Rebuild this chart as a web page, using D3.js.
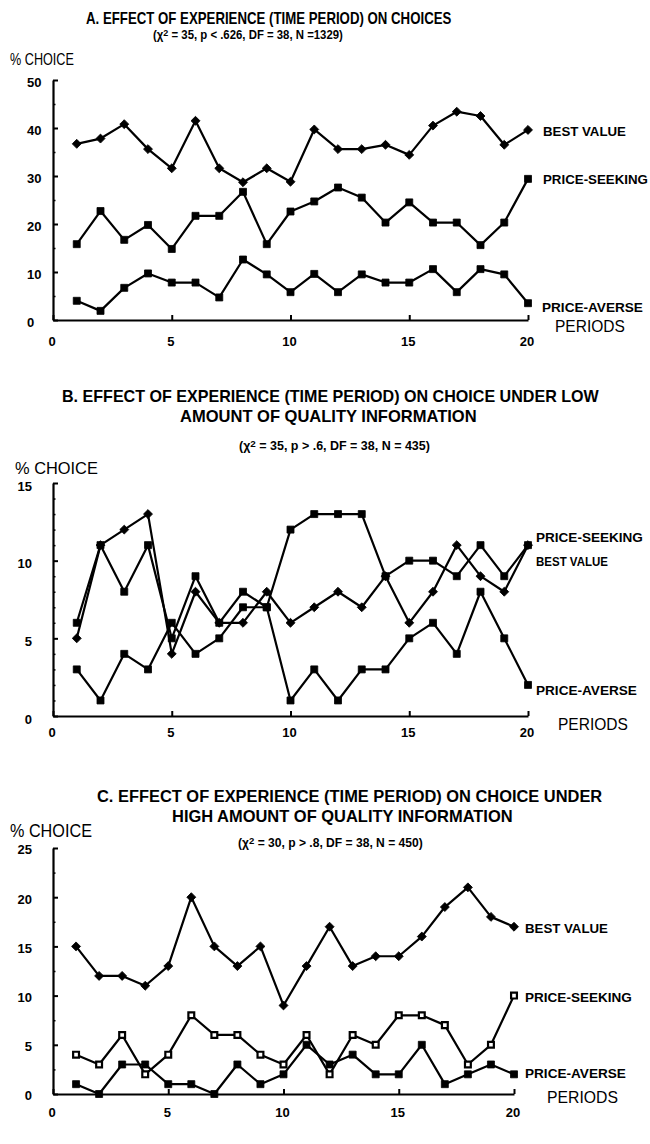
<!DOCTYPE html>
<html>
<head>
<meta charset="utf-8">
<script src="https://cdn.jsdelivr.net/npm/d3@7"></script>
<style>
  body { margin: 0; background: #fff; }
  svg { display: block; }
</style>
</head>
<body>
<svg id="chart" width="650" height="1144"></svg>
<script>
// ---- data ----
const periods = [1, 2, 3, 4, 5, 6, 7, 8, 9, 10, 11, 12, 13, 14, 15, 16, 17, 18, 19, 20];
const xTickValues = [0, 5, 10, 15, 20];
const seriesNames = ["BEST VALUE", "PRICE-SEEKING", "PRICE-AVERSE"];

// A. all choices
const aBestValue    = [36.7, 37.8, 40.8, 35.6, 31.6, 41.5, 31.6, 28.7, 31.6, 28.8, 39.7, 35.6, 35.6, 36.5, 34.4, 40.5, 43.4, 42.5, 36.5, 39.6];
const aPriceSeeking = [15.8, 22.7, 16.7, 19.8, 14.8, 21.7, 21.7, 26.7, 15.8, 22.6, 24.7, 27.6, 25.5, 20.3, 24.5, 20.3, 20.3, 15.6, 20.3, 29.4];
const aPriceAverse  = [4.0, 1.9, 6.7, 9.7, 7.8, 7.8, 4.7, 12.6, 9.5, 5.8, 9.6, 5.8, 9.5, 7.8, 7.8, 10.6, 5.8, 10.6, 9.5, 3.5];
const aYTicks = [0, 10, 20, 30, 40, 50];
const aYMinorTicks = [5, 15, 25, 35, 45];

// B. low amount of quality information
const bBestValue    = [5, 11, 12, 13, 4, 8, 6, 6, 8, 6, 7, 8, 7, 9, 6, 8, 11, 9, 8, 11];
const bPriceSeeking = [6, 11, 8, 11, 5, 9, 6, 8, 7, 12, 13, 13, 13, 9, 10, 10, 9, 11, 9, 11];
const bPriceAverse  = [3, 1, 4, 3, 6, 4, 5, 7, 7, 1, 3, 1, 3, 3, 5, 6, 4, 8, 5, 2];
const bYTicks = [0, 5, 10, 15];
const bYMinorTicks = [1, 2, 3, 4, 6, 7, 8, 9, 11, 12, 13, 14];

// C. high amount of quality information
const cBestValue    = [15, 12, 12, 11, 13, 20, 15, 13, 15, 9, 13, 17, 13, 14, 14, 16, 19, 21, 18, 17];
const cPriceSeeking = [4, 3, 6, 2, 4, 8, 6, 6, 4, 3, 6, 2, 6, 5, 8, 8, 7, 3, 5, 10];
const cPriceAverse  = [1, 0, 3, 3, 1, 1, 0, 3, 1, 2, 5, 3, 4, 2, 2, 5, 1, 2, 3, 2];
const cYTicks = [0, 5, 10, 15, 20, 25];
const cYMinorTicks = [2.5, 7.5, 12.5, 17.5, 22.5];

const aTitle = ["A. EFFECT OF EXPERIENCE (TIME PERIOD) ON CHOICES"];
const bTitle = ["B. EFFECT OF EXPERIENCE (TIME PERIOD) ON CHOICE UNDER LOW", "AMOUNT OF QUALITY INFORMATION"];
const cTitle = ["C. EFFECT OF EXPERIENCE (TIME PERIOD) ON CHOICE UNDER", "HIGH AMOUNT OF QUALITY INFORMATION"];
const aStats = " = 35, p < .626, DF = 38, N =1329)";
const bStats = " = 35, p > .6, DF = 38, N = 435)";
const cStats = " = 30, p > .8, DF = 38, N = 450)";
const yAxisTitle = "% CHOICE";
const xAxisTitle = "PERIODS";

// ---- drawing ----
const FONT = "'Liberation Sans', Arial, Helvetica, sans-serif";
const svg = d3.select("#chart");

// Text squeezed/stretched horizontally to occupy [x0, x1], baseline at y.
function fitText(parent, parts, x0, x1, y, size, weight) {
  const t = parent.append("text")
    .attr("font-family", FONT)
    .attr("font-size", size)
    .attr("font-weight", weight)
    .attr("fill", "#000");
  parts.forEach(p => {
    const ts = t.append("tspan").text(p.text);
    if (p.dy) ts.attr("dy", p.dy);
    if (p.size) ts.attr("font-size", p.size);
  });
  const w = t.node().getBBox().width;
  t.attr("transform", `translate(${x0},${y}) scale(${(x1 - x0) / w},1)`);
  return t;
}

function statsParts(rest) {
  return [{ text: "(\u03C7" }, { text: "2", dy: -3, size: 9.5 }, { text: rest, dy: 3 }];
}

const markers = {
  diamond: d3.symbol().type(d3.symbolSquare).size(40)(),
  square: d3.symbol().type(d3.symbolSquare).size(49)(),
  open: d3.symbol().type(d3.symbolSquare).size(34)()
};

function drawPanel(L, data) {
  const g = svg.append("g");
  const x = d3.scaleLinear().domain([0, 20]).range(L.xRange);
  const y = d3.scaleLinear().domain([0, L.yMax]).range(L.yRange);

  // minor y ticks
  const minor = g.append("g")
    .attr("transform", `translate(${x(0)},0)`)
    .call(d3.axisLeft(y).tickValues(data.yMinor).tickSize(-2.5).tickSizeOuter(0).tickFormat(""));
  minor.select(".domain").remove();
  minor.selectAll("line").attr("stroke-width", 1.5);

  // major y axis
  const ya = g.append("g")
    .attr("transform", `translate(${x(0)},0)`)
    .call(d3.axisLeft(y).tickValues(data.yTicks).tickSize(-5).tickSizeOuter(0));
  ya.select(".domain").attr("stroke-width", 2.2);
  ya.selectAll(".tick line").attr("stroke-width", 2);
  ya.selectAll(".tick text")
    .attr("font-family", FONT).attr("font-size", 13).attr("font-weight", "bold")
    .attr("x", L.yLabelX - x(0)).attr("text-anchor", L.yLabelAnchor).attr("dy", L.yDy);
  ya.attr("font-size", null).attr("font-family", null);

  // x axis
  const xa = g.append("g")
    .attr("transform", `translate(0,${y(0)})`)
    .call(d3.axisBottom(x).tickValues(xTickValues).tickSize(-5).tickSizeOuter(0).tickPadding(L.xPad));
  xa.select(".domain").attr("stroke-width", 2.2);
  xa.selectAll(".tick line").attr("stroke-width", 2);
  xa.selectAll(".tick text")
    .attr("font-family", FONT).attr("font-size", 13).attr("font-weight", "bold").attr("dx", -1.5);
  xa.attr("font-size", null).attr("font-family", null);

  // series
  const line = d3.line().x((d, i) => x(periods[i])).y(d => y(d));
  data.series.forEach(s => {
    g.append("path").datum(s.values)
      .attr("d", line).attr("fill", "none")
      .attr("stroke", "#000").attr("stroke-width", 2.2).attr("stroke-linejoin", "round");
  });
  data.series.forEach(s => {
    g.selectAll(null).data(s.values).enter().append("path")
      .attr("d", markers[s.marker])
      .attr("transform", (d, i) => `translate(${x(periods[i])},${y(d)})` + (s.marker === "diamond" ? " rotate(45)" : ""))
      .attr("fill", s.marker === "open" ? "#fff" : "#000")
      .attr("stroke", "#000")
      .attr("stroke-width", s.marker === "open" ? 2.2 : 0.8);
  });

  // titles and labels
  data.title.forEach((t, i) => fitText(g, [{ text: t }], L.title[i][0], L.title[i][1], L.title[i][2], 16, "bold"));
  fitText(g, statsParts(data.stats), L.stats[0], L.stats[1], L.stats[2], 12, "bold");
  fitText(g, [{ text: yAxisTitle }], L.yTitle[0], L.yTitle[1], L.yTitle[2], L.yTitleSize, "normal");
  fitText(g, [{ text: xAxisTitle }], L.xTitle[0], L.xTitle[1], L.xTitle[2], 16, "normal");
  data.series.forEach((s, i) => {
    const p = L.seriesLabels[i];
    fitText(g, [{ text: s.name }], p[0], p[1], p[2], 13.5, "bold");
  });
}

drawPanel(
  { xRange: [53, 528], yRange: [320, 80], yMax: 50, yLabelX: 27, yLabelAnchor: "start", yDy: "0.52em", xPad: 17,
    title: [[86, 452, 24]], stats: [153, 343, 39], yTitle: [10, 74, 65], yTitleSize: 16, xTitle: [555, 625, 332],
    seriesLabels: [[543, 626, 136], [543, 648, 184], [542, 643, 312]] },
  { title: aTitle, stats: aStats, yTicks: aYTicks, yMinor: aYMinorTicks,
    series: [
      { name: seriesNames[0], values: aBestValue, marker: "diamond" },
      { name: seriesNames[1], values: aPriceSeeking, marker: "square" },
      { name: seriesNames[2], values: aPriceAverse, marker: "square" }
    ] }
);

drawPanel(
  { xRange: [53, 528], yRange: [716, 483], yMax: 15, yLabelX: 32, yLabelAnchor: "end", yDy: "0.55em", xPad: 12,
    title: [[62, 600, 402], [180, 477, 422]], stats: [239, 430, 450], yTitle: [15, 98, 473.5], yTitleSize: 17, xTitle: [558, 628, 730],
    seriesLabels: [[536, 608, 566], [536, 643, 542], [536, 637, 695]] },
  { title: bTitle, stats: bStats, yTicks: bYTicks, yMinor: bYMinorTicks,
    series: [
      { name: seriesNames[0], values: bBestValue, marker: "diamond" },
      { name: seriesNames[1], values: bPriceSeeking, marker: "square" },
      { name: seriesNames[2], values: bPriceAverse, marker: "square" }
    ] }
);

drawPanel(
  { xRange: [53, 514], yRange: [1094, 848], yMax: 25, yLabelX: 32, yLabelAnchor: "end", yDy: "0.45em", xPad: 14,
    title: [[97, 603, 802], [172, 513, 822]], stats: [238, 423, 847], yTitle: [10, 92, 837], yTitleSize: 18, xTitle: [547, 618, 1103],
    seriesLabels: [[525, 608, 933], [525, 632, 1002], [525, 626, 1078]] },
  { title: cTitle, stats: cStats, yTicks: cYTicks, yMinor: cYMinorTicks,
    series: [
      { name: seriesNames[0], values: cBestValue, marker: "diamond" },
      { name: seriesNames[1], values: cPriceSeeking, marker: "open" },
      { name: seriesNames[2], values: cPriceAverse, marker: "square" }
    ] }
);
</script>
</body>
</html>
